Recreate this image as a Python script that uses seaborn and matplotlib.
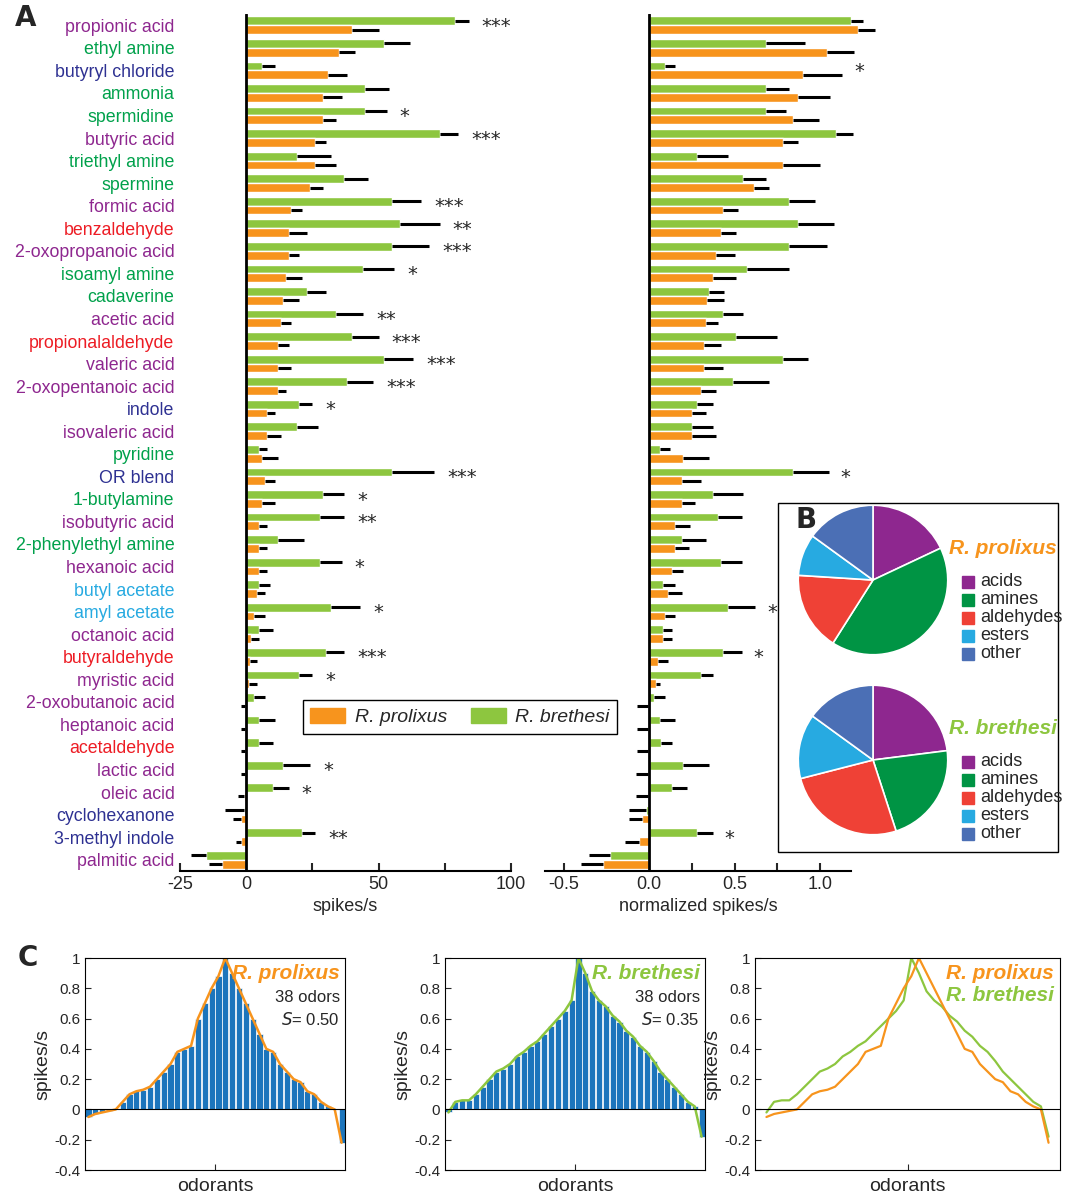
import matplotlib
matplotlib.use("Agg")
import matplotlib.pyplot as plt
import matplotlib.patches as mpatches
import numpy as np
import pandas as pd
import seaborn as sns

sns.set_style("white")
plt.rcParams["font.family"] = ["DejaVu Sans Condensed", "Liberation Sans"]

odors = ["propionic acid", "ethyl amine", "butyryl chloride", "ammonia", "spermidine",
         "butyric acid", "triethyl amine", "spermine", "formic acid", "benzaldehyde",
         "2-oxopropanoic acid", "isoamyl amine", "cadaverine", "acetic acid",
         "propionalaldehyde", "valeric acid", "2-oxopentanoic acid", "indole",
         "isovaleric acid", "pyridine", "OR blend", "1-butylamine", "isobutyric acid",
         "2-phenylethyl amine", "hexanoic acid", "butyl acetate", "amyl acetate",
         "octanoic acid", "butyraldehyde", "myristic acid", "2-oxobutanoic acid",
         "heptanoic acid", "acetaldehyde", "lactic acid", "oleic acid", "cyclohexanone",
         "3-methyl indole", "palmitic acid"]
odor_class = ["acid", "amine", "other", "amine", "amine", "acid", "amine", "amine", "acid",
              "aldehyde", "acid", "amine", "amine", "acid", "aldehyde", "acid", "acid", "other",
              "acid", "amine", "other", "amine", "acid", "amine", "acid", "ester", "ester",
              "acid", "aldehyde", "acid", "acid", "acid", "aldehyde", "acid", "acid", "other",
              "other", "acid"]

# raw spikes/s
breth_raw = [79, 52, 6, 45, 45, 73, 19, 37, 55, 58, 55, 44, 23, 34, 40, 52, 38, 20, 19, 5,
             55, 29, 28, 12, 28, 5, 32, 5, 30, 20, 3, 5, 5, 14, 10, -1, 21, -15]
breth_raw_err = [84, 62, 11, 54, 53, 80, 32, 46, 66, 73, 69, 56, 30, 44, 50, 63, 48, 25, 27, 8,
                 71, 37, 37, 22, 36, 9, 43, 10, 37, 25, 7, 11, 10, 24, 16, -8, 26, -21]
prol_raw = [40, 35, 31, 29, 29, 26, 26, 24, 17, 16, 16, 15, 14, 13, 12, 12, 12, 8, 8, 6,
            7, 6, 5, 5, 5, 4, 3, 2, 1.5, 1, -0.5, -0.5, -0.5, -0.5, -1, -2, -2, -9]
prol_raw_err = [50, 41, 38, 36, 34, 30, 34, 29, 21, 23, 20, 21, 20, 17, 16, 17, 15, 11, 13, 12,
                11, 11, 8, 8, 8, 7, 7, 5, 4, 4, -2, -2, -2, -2, -3, -5, -4, -14]
raw_stars = ["***", "", "", "", "*", "***", "", "", "***", "**", "***", "*", "", "**", "***",
             "***", "***", "*", "", "", "***", "*", "**", "", "*", "", "*", "", "***", "*",
             "", "", "", "*", "*", "", "**", ""]

# normalized spikes/s
breth_norm = [1.18, 0.68, 0.09, 0.68, 0.68, 1.09, 0.28, 0.55, 0.82, 0.87, 0.82, 0.57, 0.35,
              0.43, 0.51, 0.78, 0.49, 0.28, 0.25, 0.06, 0.84, 0.37, 0.40, 0.19, 0.42, 0.08,
              0.46, 0.08, 0.43, 0.30, 0.03, 0.06, 0.07, 0.20, 0.13, -0.02, 0.28, -0.23]
breth_norm_err = [1.25, 0.91, 0.15, 0.82, 0.80, 1.19, 0.46, 0.68, 0.97, 1.08, 1.04, 0.82, 0.44,
                  0.55, 0.75, 0.93, 0.70, 0.37, 0.37, 0.12, 1.05, 0.55, 0.54, 0.33, 0.54, 0.15,
                  0.62, 0.13, 0.54, 0.37, 0.09, 0.15, 0.13, 0.35, 0.22, -0.12, 0.37, -0.35]
prol_norm = [1.22, 1.04, 0.90, 0.87, 0.84, 0.78, 0.78, 0.61, 0.43, 0.42, 0.39, 0.37, 0.34,
             0.33, 0.32, 0.32, 0.30, 0.25, 0.25, 0.20, 0.19, 0.19, 0.15, 0.15, 0.13, 0.11,
             0.09, 0.08, 0.05, 0.04, -0.01, -0.01, -0.01, -0.01, -0.01, -0.04, -0.06, -0.27]
prol_norm_err = [1.32, 1.20, 1.13, 1.06, 0.99, 0.87, 1.00, 0.70, 0.52, 0.51, 0.50, 0.51, 0.44,
                 0.40, 0.42, 0.43, 0.39, 0.33, 0.39, 0.35, 0.30, 0.27, 0.24, 0.23, 0.20, 0.19,
                 0.15, 0.13, 0.11, 0.06, -0.07, -0.07, -0.07, -0.08, -0.08, -0.12, -0.14, -0.40]
norm_stars = ["", "", "*", "", "", "", "", "", "", "", "", "", "", "", "", "", "", "", "", "",
              "*", "", "", "", "", "", "*", "", "*", "", "", "", "", "", "", "", "*", ""]

pie_labels = ["acids", "amines", "aldehydes", "esters", "other"]
pie_prolixus = [18, 41, 17, 9, 15]
pie_brethesi = [23, 22, 26, 14, 15]

tuning_prolixus = [-0.05, -0.03, -0.02, -0.01, 0, 0.05, 0.1, 0.12, 0.13, 0.15, 0.2, 0.25, 0.3,
                   0.38, 0.4, 0.42, 0.6, 0.7, 0.8, 0.88, 1.0, 0.9, 0.8, 0.7, 0.6, 0.5, 0.4,
                   0.38, 0.3, 0.25, 0.2, 0.18, 0.12, 0.1, 0.05, 0.02, 0, -0.22]
tuning_brethesi = [-0.02, 0.05, 0.06, 0.06, 0.1, 0.15, 0.2, 0.25, 0.27, 0.3, 0.35, 0.38, 0.42,
                   0.45, 0.5, 0.55, 0.6, 0.65, 0.72, 1.0, 0.9, 0.78, 0.72, 0.68, 0.62, 0.58,
                   0.52, 0.48, 0.42, 0.38, 0.32, 0.25, 0.2, 0.15, 0.1, 0.05, 0.02, -0.18]

ORANGE = "#f7941d"
GREEN = "#8dc63f"
class_colors = {"acid": "#8e278f", "amine": "#00a14b", "aldehyde": "#ed1c24",
                "ester": "#27aae1", "other": "#2e3192"}
pie_colors = ["#8e278f", "#009444", "#ef4136", "#27aae1", "#4b6fb5"]

W, H = 1066, 1194
fig = plt.figure(figsize=(W / 100, H / 100), dpi=100)


def px_axes(x0, y0, x1, y1):
    return fig.add_axes([x0 / W, 1 - y1 / H, (x1 - x0) / W, (y1 - y0) / H])


def bar_panel(ax, green, green_err, orange, orange_err, stars, xlim, star_off):
    df = pd.DataFrame({"odor": odors * 2,
                       "value": green + orange,
                       "species": ["R. brethesi"] * len(odors) + ["R. prolixus"] * len(odors)})
    sns.barplot(data=df, y="odor", x="value", hue="species", order=odors,
                hue_order=["R. brethesi", "R. prolixus"], palette=[GREEN, ORANGE],
                orient="h", width=0.78, saturation=1, legend=False, ax=ax)
    for cont, errs in zip(ax.containers, [green_err, orange_err]):
        for bar, e in zip(cont, errs):
            bar.set_clip_on(False)
            y = bar.get_y() + bar.get_height() / 2
            ax.plot([bar.get_x() + bar.get_width(), e], [y, y], color="black", lw=2.2,
                    solid_capstyle="butt", clip_on=False)
    for i, s in enumerate(stars):
        if s:
            ax.text(max(green_err[i], orange_err[i]) + star_off, i + 0.05, s,
                    ha="left", va="center", fontsize=14, family="DejaVu Sans")
    ax.axvline(0, color="black", lw=2)
    ax.set_xlim(*xlim)
    ax.set_ylim(len(odors) - 0.5, -0.5)
    ax.set_facecolor("none")
    for sp in ["top", "right", "left"]:
        ax.spines[sp].set_visible(False)
    ax.spines["bottom"].set_linewidth(1.5)
    ax.spines["bottom"].set_color("black")
    ax.tick_params(axis="x", direction="in", length=6, width=1.5, labelsize=13,
                   which="both", bottom=True)
    ax.set_ylabel("")


axL = px_axes(180, 14, 511, 871)
bar_panel(axL, breth_raw, breth_raw_err, prol_raw, prol_raw_err, raw_stars, (-25, 100), 5)
axL.set_xticks([-25, 0, 50, 100])
axL.set_xticklabels(["-25", "0", "50", "100"])
axL.set_xticks([25, 75], minor=True)
axL.set_xlabel("spikes/s", fontsize=13)
axL.set_yticks(range(len(odors)))
axL.set_yticklabels(odors, fontsize=12.8)
for lab, c in zip(axL.get_yticklabels(), odor_class):
    lab.set_color(class_colors[c])
axL.tick_params(axis="y", length=0, pad=4)

axR = px_axes(545, 14, 851, 871)
bar_panel(axR, breth_norm, breth_norm_err, prol_norm, prol_norm_err, norm_stars,
          (-0.61, 1.18), 0.07)
axR.set_xticks([-0.5, 0, 0.5, 1.0])
axR.set_xticklabels(["-0.5", "0.0", "0.5", "1.0"])
axR.set_xticks([-0.25, 0.25, 0.75], minor=True)
axR.set_xlabel("normalized spikes/s", fontsize=13)
axR.set_yticks([])

handles = [mpatches.Patch(color=ORANGE, label="R. prolixus"),
           mpatches.Patch(color=GREEN, label="R. brethesi")]
leg = fig.legend(handles=handles, ncol=2, loc="center", bbox_to_anchor=(460 / W, 1 - 717 / H),
                 frameon=True, fancybox=False, edgecolor="black", framealpha=1,
                 prop={"style": "italic", "size": 14}, handlelength=1.8, handleheight=0.8,
                 columnspacing=1.2, handletextpad=0.5)
leg.set_zorder(10)

# panel B
fig.patches.append(mpatches.Rectangle((778 / W, 1 - 852 / H), 280 / W, 349 / H,
                                      transform=fig.transFigure, fill=False,
                                      edgecolor="black", lw=1))
for vals, cy, title, tcol in [(pie_prolixus, 580, "R. prolixus", ORANGE),
                              (pie_brethesi, 760, "R. brethesi", GREEN)]:
    axp = px_axes(797, cy - 76, 949, cy + 76)
    axp.pie(vals, colors=pie_colors, startangle=90, counterclock=False, radius=1.2,
            wedgeprops={"edgecolor": "white", "linewidth": 1.2})
    axp.set_xlim(-1.22, 1.22)
    axp.set_ylim(-1.22, 1.22)
    axp.set_aspect("equal")
    fig.text(1003 / W, 1 - (cy - 32) / H, title, color=tcol, fontsize=15, style="italic",
             weight="bold", ha="center", va="center")
    for k, (lab, col) in enumerate(zip(pie_labels, pie_colors)):
        yy = cy + 2 + k * 18
        fig.patches.append(mpatches.Rectangle((962 / W, 1 - (yy + 6) / H), 12 / W, 12 / H,
                                              transform=fig.transFigure, color=col))
        fig.text(980 / W, 1 - yy / H, lab, fontsize=13, va="center")

# panel C
def tuning_axes(ax):
    ax.set_ylim(-0.4, 1)
    ax.set_yticks([-0.4, -0.2, 0, 0.2, 0.4, 0.6, 0.8, 1])
    ax.set_yticklabels(["-0.4", "-0.2", "0", "0.2", "0.4", "0.6", "0.8", "1"])
    ax.tick_params(axis="y", direction="in", length=4, labelsize=11, left=True)
    ax.set_ylabel("spikes/s", fontsize=14, labelpad=2)
    ax.set_xlabel("odorants", fontsize=14, labelpad=2)
    for sp in ax.spines.values():
        sp.set_color("black")
        sp.set_linewidth(0.8)


for vals, col, x0, name, S in [(tuning_prolixus, ORANGE, 85, "R. prolixus", "0.50"),
                               (tuning_brethesi, GREEN, 445, "R. brethesi", "0.35")]:
    ax = px_axes(x0, 958, x0 + 260, 1170)
    idx = list(range(len(vals)))
    sns.barplot(x=idx, y=vals, color="#1c75bc", saturation=1, width=0.9,
                edgecolor="white", linewidth=0.5, ax=ax)
    ax.plot(idx, vals, color=col, lw=1.8)
    ax.axhline(0, color="black", lw=0.8)
    ax.set_xlim(-0.5, len(vals) - 0.5)
    ax.set_xticks([(len(vals) - 1) / 2])
    ax.set_xticklabels([])
    ax.tick_params(axis="x", direction="in", length=4, bottom=True)
    tuning_axes(ax)
    ax.text(0.98, 0.97, name, transform=ax.transAxes, ha="right", va="top", color=col,
            fontsize=15, style="italic", weight="bold")
    ax.text(0.98, 0.85, "38 odors", transform=ax.transAxes, ha="right", va="top", fontsize=12)
    ax.text(0.98, 0.75, "$S$= " + S, transform=ax.transAxes, ha="right", va="top", fontsize=12)

ax3 = px_axes(755, 958, 1060, 1170)
idx = list(range(len(tuning_prolixus)))
sns.lineplot(x=idx, y=tuning_brethesi, color=GREEN, lw=1.6, ax=ax3)
sns.lineplot(x=idx, y=tuning_prolixus, color=ORANGE, lw=1.6, ax=ax3)
ax3.axhline(0, color="black", lw=0.8)
ax3.set_xlim(-1.5, len(idx) + 0.5)
ax3.set_xticks([(len(idx) - 1) / 2])
ax3.set_xticklabels([])
ax3.tick_params(axis="x", direction="in", length=4, bottom=True)
tuning_axes(ax3)
ax3.text(0.98, 0.97, "R. prolixus", transform=ax3.transAxes, ha="right", va="top",
         color=ORANGE, fontsize=15, style="italic", weight="bold")
ax3.text(0.98, 0.87, "R. brethesi", transform=ax3.transAxes, ha="right", va="top",
         color=GREEN, fontsize=15, style="italic", weight="bold")

for lab, x, y in [("A", 15, 18), ("B", 796, 520), ("C", 18, 958)]:
    fig.text(x / W, 1 - y / H, lab, fontsize=20, weight="bold", va="center",
             family="DejaVu Sans")

fig.savefig("out.png", dpi=100)
